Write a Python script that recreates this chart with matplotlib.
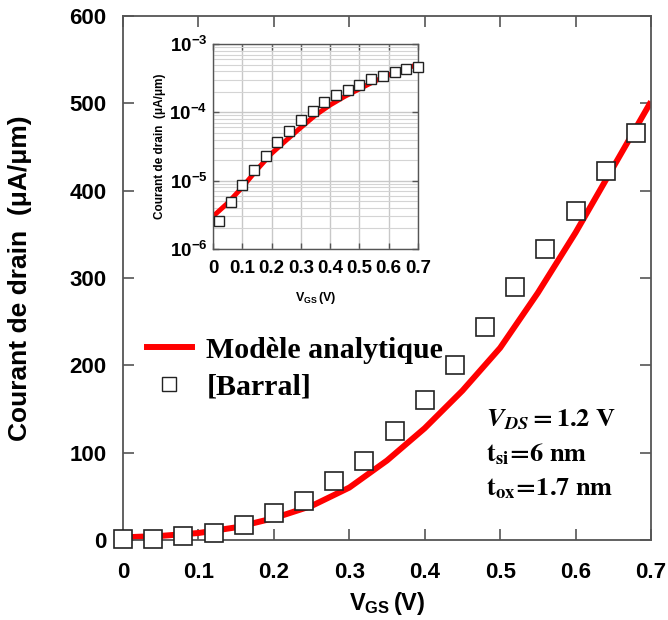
import math
import matplotlib
matplotlib.use("Agg")
import matplotlib.pyplot as plt
from matplotlib.lines import Line2D
from matplotlib.ticker import FixedLocator, LogLocator, NullFormatter, FuncFormatter

plt.rcParams['font.family'] = ['Liberation Sans', 'DejaVu Sans']
plt.rcParams['mathtext.fontset'] = 'custom'
plt.rcParams['mathtext.rm'] = 'Liberation Sans:bold'
plt.rcParams['mathtext.bf'] = 'Liberation Sans:bold'
plt.rcParams['mathtext.it'] = 'Liberation Sans:bold'

# ---------------- data ----------------
# analytic model (μA/μm)
vgs_model = [0.0, 0.05, 0.1, 0.15, 0.2, 0.25, 0.3, 0.35, 0.4, 0.45, 0.5, 0.55, 0.6, 0.65, 0.7]
id_model = [3, 4.7, 8, 14.5, 25, 39, 60, 91, 128, 171, 220, 283, 352, 427, 502]

# Barral (main panel, μA/μm)
vgs_barral = [0.0, 0.04, 0.08, 0.12, 0.16, 0.20, 0.24, 0.28, 0.32, 0.36, 0.40,
              0.44, 0.48, 0.52, 0.56, 0.60, 0.64, 0.68]
id_barral = [1, 1.5, 4.5, 8.5, 17, 31, 45, 68, 90, 125, 160,
             200, 244, 290, 333, 377, 423, 466]

# Barral (inset, A/μm)
vgs_barral_inset = [0.02, 0.06, 0.10, 0.14, 0.18, 0.22, 0.26, 0.30, 0.34, 0.38,
                    0.42, 0.46, 0.50, 0.54, 0.58, 0.62, 0.66, 0.70]
id_barral_inset = [2.54e-6, 4.85e-6, 8.5e-6, 1.44e-5, 2.33e-5, 3.65e-5, 5.36e-5,
                   7.75e-5, 1.05e-4, 1.41e-4, 1.80e-4, 2.15e-4, 2.52e-4, 3.05e-4,
                   3.41e-4, 3.94e-4, 4.36e-4, 4.67e-4]

xticks = [0, 0.1, 0.2, 0.3, 0.4, 0.5, 0.6, 0.7]
xtick_labels = ['0', '0.1', '0.2', '0.3', '0.4', '0.5', '0.6', '0.7']
yticks = [0, 100, 200, 300, 400, 500, 600]

legend_labels = ['Modèle analytique', '[Barral]']

RED = '#ff0000'
SPINE = '#555555'

fig = plt.figure(figsize=(6.68, 6.2), dpi=100)
ax = fig.add_axes([123/668, 1-540/620, (651-123)/668, (540-16)/620])

ax.plot(vgs_model, id_model, color=RED, lw=4.3, solid_capstyle='butt', zorder=2)
ax.plot(vgs_barral, id_barral, ls='none', marker='s', ms=13, mfc='white',
        mec='#222222', mew=1.2, zorder=3, clip_on=False)
ax.set_xlim(0, 0.7)
ax.set_ylim(0, 600)
ax.xaxis.set_major_locator(FixedLocator(xticks))
ax.set_xticklabels(xtick_labels)
ax.yaxis.set_major_locator(FixedLocator(yticks))
ax.tick_params(direction='in', length=8, width=1.2, color=SPINE,
               top=True, right=True, labelsize=16)
ax.tick_params(axis='x', pad=16)
ax.tick_params(axis='y', pad=12)
for lab in ax.get_xticklabels() + ax.get_yticklabels():
    lab.set_fontweight('bold')
for s in ax.spines.values():
    s.set_color(SPINE)
    s.set_linewidth(1.3)

ax.set_ylabel('Courant de drain  (μA/μm)', fontsize=19, fontweight='bold')
ax.yaxis.set_label_coords(-0.172, 0.5)
ax.set_xlabel(r'$\mathbf{V_{GS}\,(V)}$', fontsize=17)
ax.xaxis.set_label_coords(0.5, -0.095)

# legend
ax.legend(
    [Line2D([], [], color=RED, lw=4.3),
     Line2D([], [], ls='none', marker='s', ms=10, mfc='white', mec='#222222', mew=1.0)],
    legend_labels, loc='upper left', bbox_to_anchor=(0.028, 0.405),
    frameon=False, handlelength=1.5, handletextpad=0.5, labelspacing=0.32,
    borderaxespad=0.0, borderpad=0.3,
    prop={'family': 'Liberation Serif', 'weight': 'bold', 'size': 21.5})

txt_kw = dict(transform=ax.transAxes, fontsize=19, math_fontfamily='stix',
              va='center', ha='left')
ax.text(0.688, 0.23, r'$\mathbfit{V}_{\mathbfit{DS}}\mathbf{=1.2\ V}$', **txt_kw)
ax.text(0.688, 0.163, r'$\mathbf{t_{si}\!=\!6\ nm}$', **txt_kw)
ax.text(0.688, 0.098, r'$\mathbf{t_{ox}\!=\!1.7\ nm}$', **txt_kw)

# ---------------- inset ----------------
ins = fig.add_axes([213/668, 1-249/620, 205/668, 205/620])
ins.plot(vgs_model, [v*1e-6 for v in id_model], color=RED, lw=3.5, zorder=2)
ins.plot(vgs_barral_inset, id_barral_inset, ls='none', marker='s', ms=7.5,
         mfc='white', mec='#222222', mew=1.0, zorder=3, clip_on=False)
ins.set_yscale('log')
ins.set_xlim(0, 0.7)
ins.set_ylim(1e-6, 1e-3)
ins.xaxis.set_major_locator(FixedLocator(xticks))
ins.set_xticklabels(xtick_labels)
ins.yaxis.set_major_locator(LogLocator(base=10, numticks=10))
ins.yaxis.set_minor_locator(LogLocator(base=10, subs=range(2, 10), numticks=20))
ins.yaxis.set_minor_formatter(NullFormatter())
ins.yaxis.set_major_formatter(FuncFormatter(lambda v, p: r'$\mathbf{10^{%d}}$' % round(math.log10(v))))
ins.grid(True, which='major', color='#c8c8c8', lw=1.0)
ins.grid(True, which='minor', axis='y', color='#d4d4d4', lw=0.8)
ins.set_axisbelow(True)
ins.tick_params(which='major', direction='in', length=4, width=1.0, color=SPINE,
                top=True, right=True, labelsize=13.5)
ins.tick_params(axis='x', pad=8)
ins.tick_params(axis='y', pad=4)
ins.tick_params(which='minor', length=0)
for lab in ins.get_xticklabels():
    lab.set_fontweight('bold')
for s in ins.spines.values():
    s.set_color(SPINE)
    s.set_linewidth(1.0)
ins.set_ylabel('Courant de drain  (μA/μm)', fontsize=8.5, fontweight='bold')
ins.yaxis.set_label_coords(-0.23, 0.5)
ins.set_xlabel(r'$\mathbf{V_{GS}\,(V)}$', fontsize=9)
ins.xaxis.set_label_coords(0.5, -0.2)

fig.savefig('out.png', dpi=100)
